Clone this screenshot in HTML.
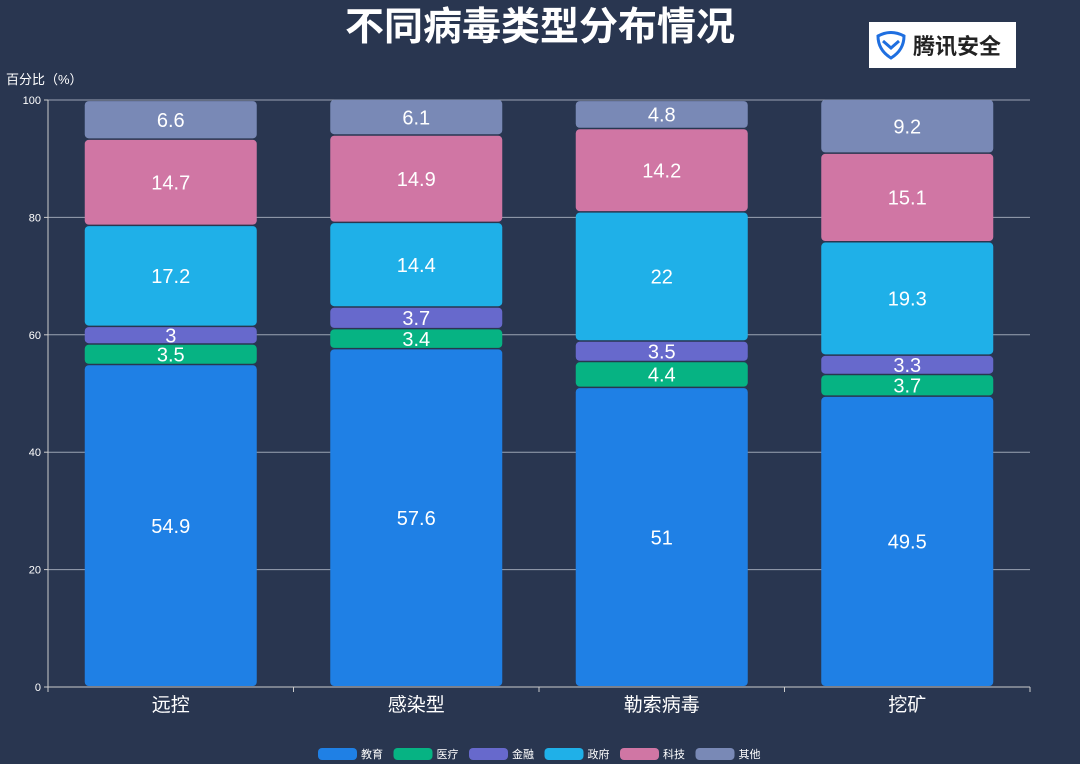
<!DOCTYPE html>
<html><head><meta charset="utf-8">
<style>
html,body{margin:0;padding:0;background:#293650;}
body{width:1080px;height:764px;overflow:hidden;position:relative;font-family:"Liberation Sans","Noto Sans CJK SC",sans-serif;}
#title{position:absolute;left:0;width:1080px;top:-4px;text-align:center;color:#fff;font-size:39px;font-weight:bold;}
#logo{position:absolute;left:869px;top:22px;width:147px;height:46px;background:#fff;display:flex;align-items:center;}
#logo span{font-size:22px;color:#222;font-weight:bold;margin-left:6px;}
</style></head><body>
<div id="title">不同病毒类型分布情况</div>
<div id="logo">
<svg width="32" height="30" viewBox="0 0 32 30" style="margin-left:6px"><path d="M3 6 Q16 -1 29 6 Q29 20 16 28 Q3 20 3 6Z" fill="none" stroke="#1f6fe0" stroke-width="3"/><path d="M8 11 L16 18 L24 11" fill="none" stroke="#1f6fe0" stroke-width="3"/></svg>
<span>腾讯安全</span></div>
<svg id="chart" width="1080" height="764" style="position:absolute;left:0;top:0"></svg>
<script>
const categories=["远控","感染型","勒索病毒","挖矿"];
const seriesNames=["教育","医疗","金融","政府","科技","其他"];
const seriesColors=["#1f80e5","#06b383","#6769cc","#1fb0e8","#d076a4","#7989b6"];
const eduVals=[54.9,57.6,51,49.5];
const medVals=[3.5,3.4,4.4,3.7];
const finVals=[3,3.7,3.5,3.3];
const govVals=[17.2,14.4,22,19.3];
const techVals=[14.7,14.9,14.2,15.1];
const otherVals=[6.6,6.1,4.8,9.2];
const yTicks=[0,20,40,60,80,100];
const series=[eduVals,medVals,finVals,govVals,techVals,otherVals];
const NS="http://www.w3.org/2000/svg";
const svg=document.getElementById('chart');
const X0=48,X1=1030,Y0=687,Y1=100;
const band=(X1-X0)/categories.length;
const yS=v=>Y0-(v/100)*(Y0-Y1);
const xC=i=>X0+band*(i+0.5);
function mk(t,a){const e=document.createElementNS(NS,t);for(const k in a)e.setAttribute(k,a[k]);svg.appendChild(e);return e;}
yTicks.forEach(t=>{
 if(t>0){const g=mk('line',{x1:X0,x2:X1,y1:yS(t),y2:yS(t),stroke:'#9aa3b3','stroke-width':1});
 
 }
 const tk=mk('line',{x1:X0-4,x2:X0,y1:yS(t),y2:yS(t),stroke:'#ccc'});
 const l=mk('text',{x:X0-7,y:yS(t)+4,fill:'#fff','font-size':11,'text-anchor':'end'});
 l.textContent=t;
 
 
});
const yt=mk('text',{x:6,y:84,fill:'#fff','font-size':13});
yt.textContent='百分比（%）';


categories.forEach((c,i)=>{
 let base=0;
 series.forEach((s,k)=>{
  const v=s[i];const yt=yS(base+v),yb=yS(base);
  const r=mk('rect',{x:xC(i)-86,y:yt+0.5,width:172,height:Math.max(0,yb-yt-1.5),rx:4,fill:seriesColors[k]});
  
  
  const t=mk('text',{x:xC(i),y:(yt+yb)/2+7,fill:'#fff','font-size':20,'text-anchor':'middle'});
  t.textContent=v;
  
  
  base+=v;
 });
 const xl=mk('text',{x:xC(i),y:711,fill:'#fff','font-size':19,'text-anchor':'middle'});
 xl.textContent=c;
 
 
});
mk('line',{x1:X0,x2:X0,y1:Y1,y2:Y0,stroke:'#ccc'});
mk('line',{x1:X0,x2:X1,y1:Y0,y2:Y0,stroke:'#ccc'});
for(let i=0;i<=categories.length;i++)mk('line',{x1:X0+band*i,x2:X0+band*i,y1:Y0,y2:Y0+5,stroke:'#ccc'});
let lx=318;
seriesNames.forEach((n,k)=>{
 const r=mk('rect',{x:lx,y:748,width:39,height:12,rx:4,fill:seriesColors[k]});
 
 
 const t=mk('text',{x:lx+43,y:758,fill:'#fff','font-size':11});
 t.textContent=n;
 
 
 lx+=75.5;
});
</script>
</body></html>
